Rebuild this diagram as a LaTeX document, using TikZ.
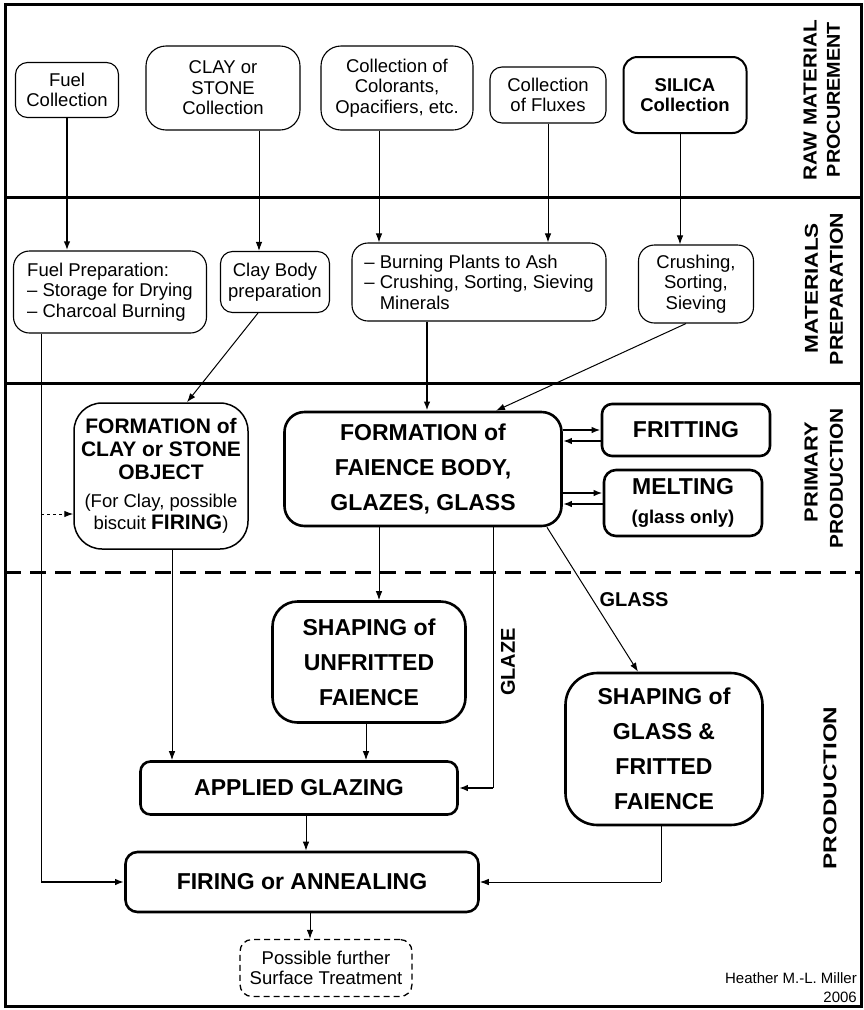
\documentclass[tikz,border=0pt]{standalone}
\usepackage{fontspec}
\setmainfont{Liberation Sans}
\usetikzlibrary{arrows.meta}
\newcommand\normtxt{\fontsize{18.5}{20.5}\selectfont}
\newcommand\bigtxt{\fontsize{23}{35}\selectfont\bfseries}
\newcommand\midtxt{\fontsize{21}{23.5}\selectfont\bfseries}
\newcommand\lanetxt[2]{\resizebox{#1}{13pt}{\bfseries #2}}

\begin{document}
\begin{tikzpicture}[x=1pt,y=-1pt,
  thinbox/.style={draw, line width=1.1pt, align=center, font=\normtxt, inner sep=0pt},
  thickbox/.style={draw, line width=2.6pt, align=center, font=\bigtxt, inner sep=0pt},
  thinline/.style={line width=1pt},
  thickline/.style={line width=2pt},
  lane/.style={rotate=90, inner sep=0pt},
  tag/.style={font=\fontsize{20}{22}\selectfont\bfseries, inner sep=0pt},
  >={Latex[length=9pt,width=6.5pt]}]

\useasboundingbox (0,0) rectangle (864,1010);

% frame and lane separators
\draw[line width=3pt] (5,4) rectangle (861,1006);
\draw[line width=3pt] (5,197) -- (861,197);
\draw[line width=3pt] (5,383) -- (861,383);
\draw[line width=3pt, dash pattern=on 16pt off 9pt] (5,572) -- (861,572);

% lane titles
\node[lane] (l1a) at (810,100)   {\lanetxt{160pt}{RAW MATERIAL}};
\node[lane] (l1b) at (833.5,99.5){\lanetxt{155pt}{PROCUREMENT}};
\node[lane] (l2a) at (811.5,288) {\lanetxt{130pt}{MATERIALS}};
\node[lane] (l2b) at (836.5,289) {\lanetxt{152pt}{PREPARATION}};
\node[lane] (l3a) at (811,472)   {\lanetxt{100pt}{PRIMARY}};
\node[lane] (l3b) at (836.5,478) {\lanetxt{140pt}{PRODUCTION}};
\node[lane] (l4)  at (830,788)   {\lanetxt{163pt}{PRODUCTION}};

% raw material procurement
\node[thinbox, rounded corners=12pt, minimum width=103pt, minimum height=55pt] (fuelc) at (67,90) {Fuel\\Collection};
\node[thinbox, rounded corners=20pt, minimum width=154pt, minimum height=84pt] (clayc) at (223,88) {CLAY or\\STONE\\Collection};
\node[thinbox, rounded corners=20pt, minimum width=152pt, minimum height=84pt] (colc) at (397,88) {Collection of\\Colorants,\\Opacifiers, etc.};
\node[thinbox, rounded corners=12pt, minimum width=116pt, minimum height=56pt] (fluxc) at (548,95) {Collection\\of Fluxes};
\node[thinbox, line width=2pt, rounded corners=14pt, minimum width=123pt, minimum height=76pt, font=\normtxt\bfseries] (silc) at (685,95) {SILICA\\Collection};

% materials preparation
\node[thinbox, align=left, rounded corners=16pt, minimum width=193pt, minimum height=82pt] (fuelp) at (110,292) {Fuel Preparation:\\-- Storage for Drying\\-- Charcoal Burning};
\node[thinbox, rounded corners=12pt, minimum width=109pt, minimum height=61pt] (clayp) at (275,282) {Clay Body\\preparation};
\node[thinbox, align=left, rounded corners=16pt, minimum width=254pt, minimum height=78pt] (burnp) at (479,282) {-- Burning Plants to Ash\\-- Crushing, Sorting, Sieving\\\phantom{-- }Minerals};
\node[thinbox, rounded corners=16pt, minimum width=115pt, minimum height=78pt] (crushp) at (696,284) {Crushing,\\Sorting,\\Sieving};

% primary production
\node[thinbox, line width=1.5pt, rounded corners=28pt, minimum width=174pt, minimum height=146pt] (formclay) at (161,476)
  {{\midtxt FORMATION of}\\[3pt]{\midtxt CLAY or STONE}\\[2pt]{\midtxt OBJECT}\\[8pt](For Clay, possible\\[1.5pt]biscuit {\midtxt FIRING})};
\node[thickbox, rounded corners=20pt, minimum width=277pt, minimum height=114pt] (faience) at (423,469) {FORMATION of\\FAIENCE BODY,\\GLAZES, GLASS};
\node[thickbox, rounded corners=10pt, minimum width=168pt, minimum height=52pt] (frit) at (686,430) {FRITTING};
\node[thickbox, rounded corners=12pt, minimum width=158pt, minimum height=66pt, font=\fontsize{23}{29}\selectfont\bfseries] (melt) at (683,503) {MELTING\\{\fontsize{18.5}{20}\selectfont (glass only)}};

% production
\node[thickbox, rounded corners=25pt, minimum width=193pt, minimum height=121pt] (shapeu) at (369,662) {SHAPING of\\UNFRITTED\\FAIENCE};
\node[thickbox, rounded corners=32pt, minimum width=197pt, minimum height=152pt] (shapeg) at (664,749) {SHAPING of\\GLASS \&\\FRITTED\\FAIENCE};
\node[thickbox, rounded corners=10pt, minimum width=317pt, minimum height=53pt] (applied) at (299,788) {APPLIED GLAZING};
\node[thickbox, rounded corners=12pt, minimum width=353pt, minimum height=60pt] (firing) at (302,882) {FIRING or ANNEALING};
\node[thinbox, line width=1.3pt, dash pattern=on 6pt off 4pt, rounded corners=12pt, minimum width=172pt, minimum height=57pt] (possible) at (326,968) {Possible further\\Surface Treatment};

% branch labels and credit
\node[tag] (glass) at (634,600) {GLASS};
\node[tag, rotate=90] (glaze) at (508,662) {GLAZE};
\node[align=right, anchor=east, inner sep=0pt, font=\fontsize{15}{19}\selectfont] (credit) at (857,988) {Heather M.-L. Miller\\2006};

% helper positions for connector columns and rows
\coordinate (xfuel) at (41,0);
\coordinate (xclay) at (259,0);
\coordinate (xcol) at (379,0);
\coordinate (xsil) at (680,0);
\coordinate (xcpa) at (258,0);
\coordinate (xcpb) at (187,0);
\coordinate (xburn) at (427,0);
\coordinate (xcra) at (686,0);
\coordinate (xcrb) at (496,0);
\coordinate (yfra) at (0,430);
\coordinate (yfrb) at (0,441);
\coordinate (ymea) at (0,493);
\coordinate (ymeb) at (0,504);
\coordinate (ydash) at (0,514);
\coordinate (xshu) at (379,0);
\coordinate (xglz) at (493,0);
\coordinate (xgla) at (547,0);
\coordinate (xglb) at (638,0);
\coordinate (xfc) at (172,0);
\coordinate (xsu) at (366,0);
\coordinate (xap) at (306,0);
\coordinate (xsg) at (661,0);
\coordinate (xfi) at (310,0);

% raw material -> preparation
\draw[thickline,->] (fuelc.south) -- (fuelc.south |- fuelp.north);
\draw[thinline,->] (clayc.south -| xclay) -- (clayp.north -| xclay);
\draw[thinline,->] (colc.south -| xcol) -- (burnp.north -| xcol);
\draw[thinline,->] (fluxc.south) -- (fluxc.south |- burnp.north);
\draw[thinline,->] (silc.south -| xsil) -- (crushp.north -| xsil);

% preparation -> primary production
\draw[thinline] (fuelp.south -| xfuel) -- (xfuel |- firing.west);
\draw[thickline,->] (xfuel |- firing.west) -- (firing.west);
\draw[thinline,dash pattern=on 3pt off 3pt,->] (xfuel |- ydash) -- (formclay.west |- ydash);
\draw[thinline,->] (clayp.south -| xcpa) -- (formclay.north -| xcpb);
\draw[thickline,->] (burnp.south -| xburn) -- (faience.north -| xburn);
\draw[thinline,->] (crushp.south -| xcra) -- (faience.north -| xcrb);

% fritting and melting loops
\draw[thickline,->] (faience.east |- yfra) -- (frit.west |- yfra);
\draw[thickline,->] (frit.west |- yfrb) -- (faience.east |- yfrb);
\draw[thickline,->] (faience.east |- ymea) -- (melt.west |- ymea);
\draw[thickline,->] (melt.west |- ymeb) -- (faience.east |- ymeb);

% primary production -> production
\draw[thinline,->] (faience.south -| xshu) -- (shapeu.north -| xshu);
\draw[thinline] (faience.south -| xglz) -- (xglz |- applied.east);
\draw[thickline,->] (xglz |- applied.east) -- (applied.east);
\draw[thinline,->] (faience.south -| xgla) -- (shapeg.north -| xglb);
\draw[thinline,->] (formclay.south -| xfc) -- (applied.north -| xfc);
\draw[thinline,->] (shapeu.south -| xsu) -- (applied.north -| xsu);
\draw[thinline,->] (applied.south -| xap) -- (firing.north -| xap);
\draw[thinline] (shapeg.south -| xsg) -- (xsg |- firing.east);
\draw[thinline,->] (xsg |- firing.east) -- (firing.east);
\draw[thinline,->] (firing.south -| xfi) -- (possible.north -| xfi);

\end{tikzpicture}
\end{document}
